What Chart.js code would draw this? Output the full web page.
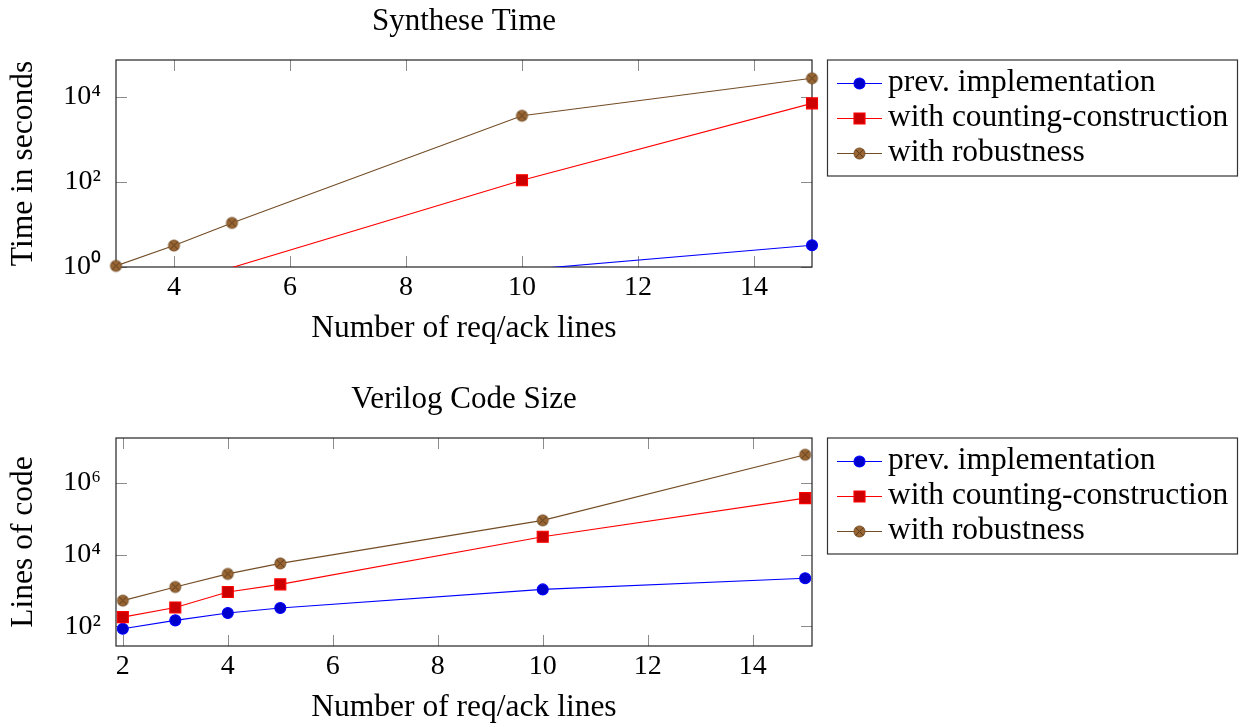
<!DOCTYPE html>
<html>
<head>
<meta charset="utf-8">
<script src="https://cdn.jsdelivr.net/npm/chart.js@4.4.1/dist/chart.umd.min.js"></script>
<style>
  html, body { margin: 0; padding: 0; background: #fff; }
  canvas { position: absolute; left: 0; }
  #synth { top: 0; }
  #code { top: 363px; }
</style>
</head>
<body>
<canvas id="synth" width="1253" height="363"></canvas>
<canvas id="code" width="1253" height="364"></canvas>
<script>
const seriesNames = ['prev. implementation', 'with counting-construction', 'with robustness'];

// Synthese Time (seconds)
const synthLines = [3, 4, 5, 10, 15];
const synthPrev = [null, null, null, 0.85, 3.25];
const synthCounting = [null, null, 0.97, 110, 7080];
const synthRobust = [1.06, 3.2, 10.9, 3620, 27500];
const synthTicksX = [4, 6, 8, 10, 12, 14];
const synthTicksY = [1, 100, 10000];

// Verilog Code Size (lines of code)
const codeLines = [2, 3, 4, 5, 10, 15];
const codePrev = [85, 146, 234, 324, 1070, 2200];
const codeCounting = [180, 335, 905, 1480, 31600, 380000];
const codeRobust = [520, 1250, 2900, 5700, 91000, 6200000];
const codeTicksX = [2, 4, 6, 8, 10, 12, 14];
const codeTicksY = [100, 10000, 1000000];

const lineColors = ['#0000ff', '#ff0000', '#734d26'];
const markFills = ['#0000cc', '#cc0000', '#996633'];

Chart.defaults.font.family = "'Liberation Serif', 'Times New Roman', serif";
Chart.defaults.color = '#000';

// circle with a cross inside (pgfplots otimes*)
function otimesMark(r, fill, stroke) {
  const c = document.createElement('canvas');
  const s = Math.ceil(r * 2 + 4);
  c.width = s;
  c.height = s;
  const g = c.getContext('2d');
  const m = s / 2;
  g.beginPath();
  g.arc(m, m, r, 0, Math.PI * 2);
  g.fillStyle = fill;
  g.fill();
  g.lineWidth = 1;
  g.strokeStyle = stroke;
  g.stroke();
  const d = r * Math.SQRT1_2;
  g.strokeStyle = '#5a3a1c';
  g.beginPath();
  g.moveTo(m - d, m - d); g.lineTo(m + d, m + d);
  g.moveTo(m + d, m - d); g.lineTo(m - d, m + d);
  g.stroke();
  return c;
}

const markStyles = [
  { style: 'circle', radius: 5.5 },
  { style: 'rect', radius: 7.8 },
  { style: otimesMark(5.5, markFills[2], lineColors[2]), radius: 5.5 }
];

const supDigits = { '0': '⁰', '1': '¹', '2': '²', '3': '³', '4': '⁴', '5': '⁵', '6': '⁶', '7': '⁷', '8': '⁸', '9': '⁹' };
function powerLabel(v) {
  const e = Math.round(Math.log10(v));
  return '10' + String(e).split('').map(d => supDigits[d]).join('');
}

function buildDatasets(xs, seriesList, yMin) {
  const sets = [];
  seriesList.forEach((vals, i) => {
    const pts = xs.map((x, j) => ({ x: x, y: vals[j] })).filter(p => p.y !== null);
    // line, clipped to the plot box
    sets.push({
      label: seriesNames[i],
      data: pts,
      borderColor: lineColors[i],
      borderWidth: 1.1,
      pointRadius: 0,
      fill: false,
      tension: 0,
      clip: 0,
      order: 5 - 2 * i
    });
    // marks, may spill over the frame
    sets.push({
      label: seriesNames[i] + ' marks',
      data: pts.filter(p => p.y >= yMin),
      showLine: false,
      pointStyle: markStyles[i].style,
      pointRadius: markStyles[i].radius,
      pointBackgroundColor: markFills[i],
      pointBorderColor: lineColors[i],
      pointBorderWidth: 1.1,
      clip: false,
      order: 4 - 2 * i
    });
  });
  return sets;
}

const framePlugin = {
  id: 'frame',
  beforeDatasetsDraw(chart) {
    const { ctx, chartArea: a, scales } = chart;
    ctx.save();
    ctx.strokeStyle = '#8c8c8c';
    ctx.lineWidth = 1;
    ctx.beginPath();
    scales.x.ticks.forEach(t => {
      const px = Math.round(scales.x.getPixelForValue(t.value)) + 0.5;
      ctx.moveTo(px, a.bottom); ctx.lineTo(px, a.bottom - 11);
      ctx.moveTo(px, a.top); ctx.lineTo(px, a.top + 11);
    });
    scales.y.ticks.forEach(t => {
      const py = Math.round(scales.y.getPixelForValue(t.value)) + 0.5;
      ctx.moveTo(a.left, py); ctx.lineTo(a.left + 11, py);
      ctx.moveTo(a.right, py); ctx.lineTo(a.right - 11, py);
    });
    ctx.stroke();
    ctx.strokeStyle = '#222';
    ctx.lineWidth = 1.2;
    ctx.strokeRect(a.left, a.top, a.right - a.left, a.bottom - a.top);
    ctx.restore();
  }
};

const legendBoxPlugin = {
  id: 'legendBox',
  afterDraw(chart) {
    const { ctx, chartArea: a } = chart;
    const left = a.right + 15.5;
    const top = a.top;
    ctx.save();
    ctx.strokeStyle = '#333';
    ctx.lineWidth = 1.2;
    ctx.strokeRect(left, top, 410, 116);
    seriesNames.forEach((name, i) => {
      const y = top + 23.5 + i * 35;
      ctx.strokeStyle = lineColors[i];
      ctx.lineWidth = 1.1;
      ctx.beginPath();
      ctx.moveTo(left + 9.5, y);
      ctx.lineTo(left + 54.5, y);
      ctx.stroke();
      ctx.fillStyle = markFills[i];
      Chart.helpers.drawPoint(ctx, { pointStyle: markStyles[i].style, radius: markStyles[i].radius, borderWidth: 1.1, rotation: 0 }, left + 32, y);
      ctx.fillStyle = '#000';
      ctx.font = "31.5px 'Liberation Serif', serif";
      ctx.textBaseline = 'alphabetic';
      ctx.textAlign = 'left';
      ctx.fillText(name, left + 60.5, y + 7.5);
    });
    ctx.restore();
  }
};

function makePanel(id, cfg) {
  return new Chart(document.getElementById(id), {
    type: 'line',
    data: { datasets: buildDatasets(cfg.xs, cfg.series, cfg.yMin) },
    plugins: [framePlugin, legendBoxPlugin],
    options: {
      responsive: false,
      animation: false,
      devicePixelRatio: 1,
      layout: { padding: { left: 0, top: 0, right: 441, bottom: 0 } },
      plugins: {
        legend: { display: false },
        tooltip: { enabled: false },
        title: {
          display: true,
          text: cfg.title,
          fullSize: false,
          font: { size: 31, weight: 'normal' },
          color: '#000',
          padding: { top: cfg.titleTop, bottom: cfg.titleBottom }
        }
      },
      scales: {
        x: {
          type: 'linear',
          min: cfg.xMin,
          max: cfg.xMax,
          afterBuildTicks: s => { s.ticks = cfg.xTicks.map(v => ({ value: v })); },
          afterFit: s => { s.height = cfg.xAxisHeight; },
          grid: { display: false, drawTicks: false },
          border: { display: false },
          ticks: { padding: 4, font: { size: 28 }, color: '#000', maxRotation: 0, autoSkip: false },
          title: {
            display: true,
            text: 'Number of req/ack lines',
            font: { size: 31.5 },
            color: '#000',
            padding: { top: 0, bottom: cfg.xTitleBottom }
          }
        },
        y: {
          type: 'logarithmic',
          min: cfg.yMin,
          max: cfg.yMax,
          afterBuildTicks: s => { s.ticks = cfg.yTicks.map(v => ({ value: v })); },
          afterFit: s => { s.width = 116; },
          grid: { display: false, drawTicks: false },
          border: { display: false },
          ticks: { padding: 15, font: { size: 28 }, color: '#000', autoSkip: false, callback: v => powerLabel(v) },
          title: {
            display: true,
            text: cfg.yTitle,
            font: { size: 31.5 },
            color: '#000',
            padding: { top: 5, bottom: 0 }
          }
        }
      }
    }
  });
}

makePanel('synth', {
  title: 'Synthese Time',
  yTitle: 'Time in seconds',
  xs: synthLines,
  series: [synthPrev, synthCounting, synthRobust],
  xMin: 3, xMax: 15,
  yMin: 1, yMax: Math.pow(10, 4.87),
  xTicks: synthTicksX,
  yTicks: synthTicksY,
  titleTop: 3,
  titleBottom: 19.8,
  xAxisHeight: 96,
  xTitleBottom: 15
});

makePanel('code', {
  title: 'Verilog Code Size',
  yTitle: 'Lines of code',
  xs: codeLines,
  series: [codePrev, codeCounting, codeRobust],
  xMin: 1.87, xMax: 15.13,
  yMin: Math.pow(10, 1.448), yMax: Math.pow(10, 7.26),
  xTicks: codeTicksX,
  yTicks: codeTicksY,
  titleTop: 18,
  titleBottom: 19.8,
  xAxisHeight: 81,
  xTitleBottom: 0
});
</script>
</body>
</html>
